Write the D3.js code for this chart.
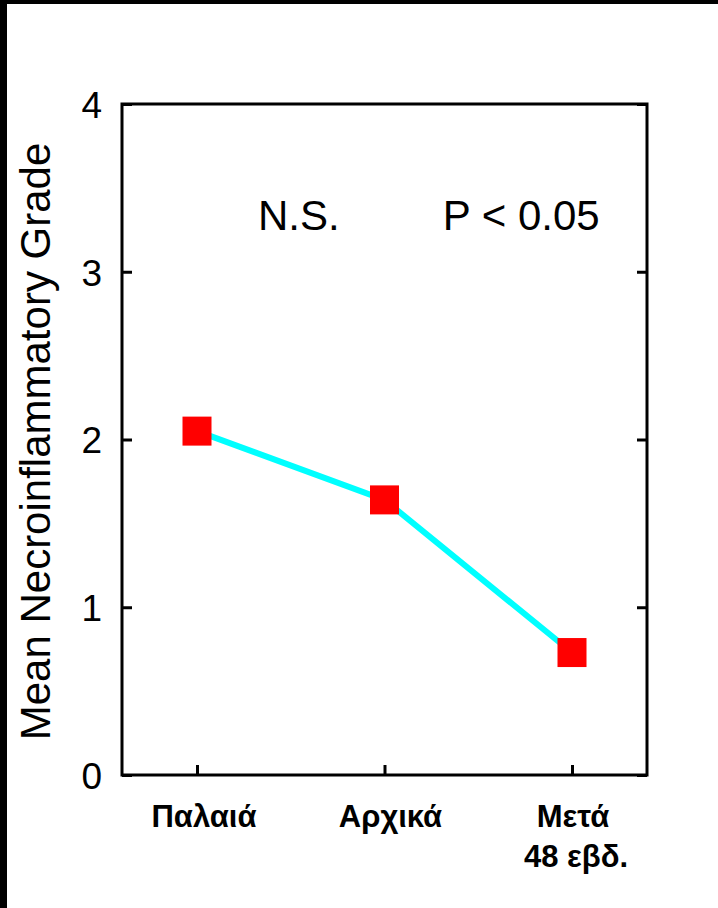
<!DOCTYPE html>
<html>
<head>
<meta charset="utf-8">
<script src="https://cdn.jsdelivr.net/npm/d3@7"></script>
<style>
  html, body { margin: 0; padding: 0; background: #000; }
  svg { display: block; }
</style>
</head>
<body>
<script>
// Mean necroinflammatory grade at three biopsy time points
const categories = ["Παλαιά", "Αρχικά", "Μετά|48 εβδ."];
const meanGrade = [2.05, 1.64, 0.73];
const yTicks = [0, 1, 2, 3, 4];
const annotations = ["N.S.", "P < 0.05"];

const W = 718, H = 908;
const frame = { left: 122, right: 647, top: 104, bottom: 775 };
const font = "Liberation Sans, Arial, sans-serif";

const svg = d3.select("body").append("svg")
  .attr("width", W).attr("height", H);

// white page inset inside the black edge
svg.append("rect")
  .attr("x", 7).attr("y", 4)
  .attr("width", W - 7).attr("height", H - 4)
  .attr("fill", "#fff");

const x = d3.scalePoint()
  .domain(categories)
  .range([frame.left, frame.right])
  .padding(0.4);

const y = d3.scaleLinear()
  .domain([0, 4])
  .range([frame.bottom, frame.top]);

const axisColor = "#000";
const tickLen = 10;

// left axis with inward ticks and labels
const leftAxis = svg.append("g")
  .attr("transform", `translate(${frame.left},0)`)
  .call(d3.axisLeft(y).tickValues(yTicks).tickFormat(d3.format("d"))
    .tickSizeInner(-tickLen).tickSizeOuter(0).tickPadding(20));
leftAxis.select(".domain").remove();
leftAxis.selectAll(".tick line").attr("stroke", axisColor).attr("stroke-width", 3);
leftAxis.selectAll(".tick text")
  .attr("fill", "#000")
  .style("font-family", font)
  .style("font-size", "37px")
  .attr("dy", "0.36em");

// right axis, ticks only
const rightAxis = svg.append("g")
  .attr("transform", `translate(${frame.right},0)`)
  .call(d3.axisRight(y).tickValues(yTicks).tickSizeInner(-tickLen).tickSizeOuter(0).tickFormat(""));
rightAxis.select(".domain").remove();
rightAxis.selectAll(".tick line").attr("stroke", axisColor).attr("stroke-width", 3);

// bottom axis with inward ticks; labels drawn separately for two-line text
const bottomAxis = svg.append("g")
  .attr("transform", `translate(0,${frame.bottom})`)
  .call(d3.axisBottom(x).tickSizeInner(-tickLen).tickSizeOuter(0).tickFormat(""));
bottomAxis.select(".domain").remove();
bottomAxis.selectAll(".tick line").attr("stroke", axisColor).attr("stroke-width", 3);

// plot frame
svg.append("rect")
  .attr("x", frame.left).attr("y", frame.top)
  .attr("width", frame.right - frame.left)
  .attr("height", frame.bottom - frame.top)
  .attr("fill", "none")
  .attr("stroke", axisColor)
  .attr("stroke-width", 3);

// category labels
const labelShift = [7, 6, 1];
const labels = svg.append("g")
  .style("font-family", font)
  .style("font-weight", "bold")
  .style("font-size", "31px")
  .attr("text-anchor", "middle");
categories.forEach((c, k) => {
  const lines = c.split("|");
  const t = labels.append("text")
    .attr("y", frame.bottom + 52);
  lines.forEach((ln, i) => {
    t.append("tspan")
      .attr("x", x(c) + labelShift[k] + (i === 1 ? 3 : 0))
      .attr("dy", i === 0 ? 0 : 40)
      .text(ln);
  });
});

// y axis title
svg.append("text")
  .attr("transform", `translate(50,${(frame.top + frame.bottom) / 2 + 2}) rotate(-90)`)
  .attr("text-anchor", "middle")
  .style("font-family", font)
  .style("font-size", "42px")
  .text("Mean Necroinflammatory Grade");

// series line
const data = categories.map((c, i) => ({ c, v: meanGrade[i] }));
svg.append("path")
  .datum(data)
  .attr("fill", "none")
  .attr("stroke", "#00ffff")
  .attr("stroke-width", 6)
  .attr("d", d3.line().x(d => x(d.c)).y(d => y(d.v)));

// square markers
const size = 29;
svg.selectAll("rect.marker")
  .data(data)
  .join("rect")
  .attr("class", "marker")
  .attr("x", d => x(d.c) - size / 2)
  .attr("y", d => y(d.v) - size / 2)
  .attr("width", size)
  .attr("height", size)
  .attr("fill", "#ff0000");

// significance annotations, placed over the gap between each pair of points
const gapCentre = i => (x(categories[i]) + x(categories[i + 1])) / 2;
const annotShift = [8, 43];
svg.append("g")
  .style("font-family", font)
  .style("font-size", "42px")
  .attr("text-anchor", "middle")
  .selectAll("text")
  .data(annotations)
  .join("text")
  .attr("x", (d, i) => gapCentre(i) + annotShift[i])
  .attr("y", 230)
  .text(d => d);
</script>
</body>
</html>
